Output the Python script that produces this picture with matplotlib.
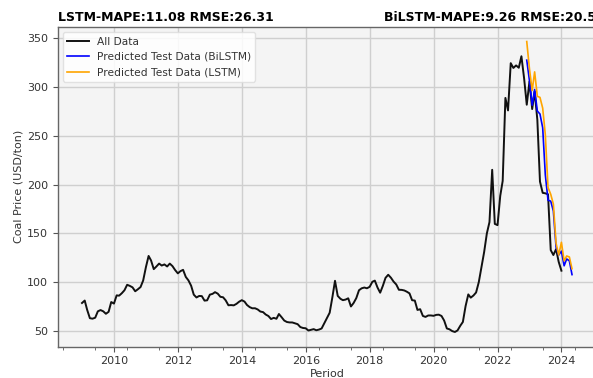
import matplotlib
matplotlib.use("Agg")
import matplotlib.pyplot as plt
import matplotlib.dates as mdates
import pandas as pd

# ---- data -------------------------------------------------------------
all_start = "2009-01-01"
all_values = [
    # 2009
    79, 81.5, 72, 63.5, 63, 64, 70.5, 71.8, 70.5, 68, 70, 80,
    # 2010
    78.4, 86.8, 86.5, 89, 92, 97.6, 96.5, 95, 91, 93, 95.3, 102,
    # 2011
    115.5, 127.05, 122.46, 113.59, 116.27, 119.26, 117.26, 118.4, 116.31, 119.24, 116.65, 112.67,
    # 2012
    109.29, 111.58, 112.87, 105.61, 102.12, 96.65, 87.56, 84.65, 86.21, 86.04, 81.44, 81.75,
    # 2013
    87.55, 88.35, 90.09, 88.56, 85.33, 84.87, 81.69, 76.70, 76.89, 76.61, 78.13, 80.31,
    # 2014
    81.90, 80.44, 77.01, 74.81, 73.60, 73.64, 72.45, 70.29, 69.69, 67.26, 65.70, 62.65,
    # 2015
    63.84, 62.92, 67.76, 64.48, 61.08, 59.59, 59.16, 59.14, 58.21, 57.39, 54.43, 53.51,
    # 2016
    53.20, 50.92, 51.62, 52.32, 51.20, 51.87, 53.00, 58.37, 63.93, 69.07, 84.89, 101.69,
    # 2017
    86.23, 83.32, 81.90, 82.51, 83.81, 75.46, 78.95, 83.97, 92.03, 93.99, 94.80, 94.04,
    # 2018
    95.54, 100.69, 101.86, 94.75, 89.53, 96.61, 104.65, 107.83, 104.81, 100.89, 97.90, 92.51,
    # 2019
    92.41, 91.80, 90.57, 88.85, 81.86, 81.48, 71.92, 72.67, 65.79, 64.80, 66.27, 66.30,
    # 2020
    65.93, 66.89, 67.08, 65.77, 61.11, 52.98, 52.16, 50.34, 49.42, 51.00, 55.71, 59.65,
    # 2021
    75.84, 87.79, 84.47, 86.68, 89.74, 100.33, 115.35, 130.99, 150.03, 161.63, 215.01, 159.79,
    # 2022
    158.50, 188.38, 203.69, 288.40, 275.64, 323.91, 319.00, 321.59, 319.22, 330.97, 308.20, 281.48,
    # 2023
    305.21, 277.05, 295, 266, 203, 191.5, 191, 190, 133, 128, 134, 121,
    # 2024
    112,
]

pred_start = "2022-12-01"
bilstm_values = [327, 306, 281, 297, 275, 272, 258, 210, 184, 183, 173, 136,
                 128, 132, 117, 124, 122, 108]
lstm_values = [346, 318, 296, 315, 290, 289, 278, 251, 197, 190, 180, 140,
               128, 141, 122, 127, 126, 114]

title_left = "LSTM-MAPE:11.08 RMSE:26.31"
title_right = "BiLSTM-MAPE:9.26 RMSE:20.56"

all_dates = pd.date_range(all_start, periods=len(all_values), freq="MS")
pred_dates = pd.date_range(pred_start, periods=len(bilstm_values), freq="MS")

# ---- figure -----------------------------------------------------------
plt.rcParams["font.family"] = ["DejaVu Sans"]
fig = plt.figure(figsize=(5.93, 3.78), dpi=100)
W, H = 593, 378
ax = fig.add_axes([57.5 / W, (H - 346.5) / H, 539 / W, (346.5 - 27) / H])
ax.set_facecolor("#f4f4f4")

ax.plot(all_dates, all_values, color="#111111", lw=1.4, label="All Data")
ax.plot(pred_dates, bilstm_values, color="blue", lw=1.2,
        label="Predicted Test Data (BiLSTM)")
ax.plot(pred_dates, lstm_values, color="orange", lw=1.2,
        label="Predicted Test Data (LSTM)")

ax.xaxis.set_major_locator(mdates.YearLocator(2))
ax.xaxis.set_major_formatter(mdates.DateFormatter("%Y"))
ax.xaxis.set_minor_locator(mdates.YearLocator(1, month=6, day=1))
ax.set_yticks([50, 100, 150, 200, 250, 300, 350])

ax.grid(True, which="major", color="#cfcfcf", lw=1.0)
ax.set_axisbelow(True)

tc = "#333333"
ax.tick_params(axis="both", which="major", labelsize=8, colors="#555555",
               labelcolor=tc, length=3.5, width=0.8)
ax.tick_params(axis="x", which="minor", length=2, width=0.6, colors="#555555")
for s in ax.spines.values():
    s.set_color("#666666")
    s.set_linewidth(1.0)

ax.set_xlabel("Period", fontsize=8, color=tc, labelpad=2)
ax.set_ylabel("Coal Price (USD/ton)", fontsize=8, color=tc, labelpad=2)

ax.set_title(title_left, loc="left", fontsize=9, fontweight="bold", pad=4)
# right-hand title runs past the right edge of the figure, as in the reference
ax.annotate(title_right, xy=(1, 1), xycoords="axes fraction",
            xytext=(5.5, 4), textcoords="offset points",
            ha="right", va="baseline", fontsize=9, fontweight="bold",
            annotation_clip=False)

leg = ax.legend(loc="upper left", fontsize=7.7, framealpha=0.85,
                edgecolor="#dddddd", fancybox=True)
for t in leg.get_texts():
    t.set_color(tc)

fig.savefig("out.png", dpi=100)
